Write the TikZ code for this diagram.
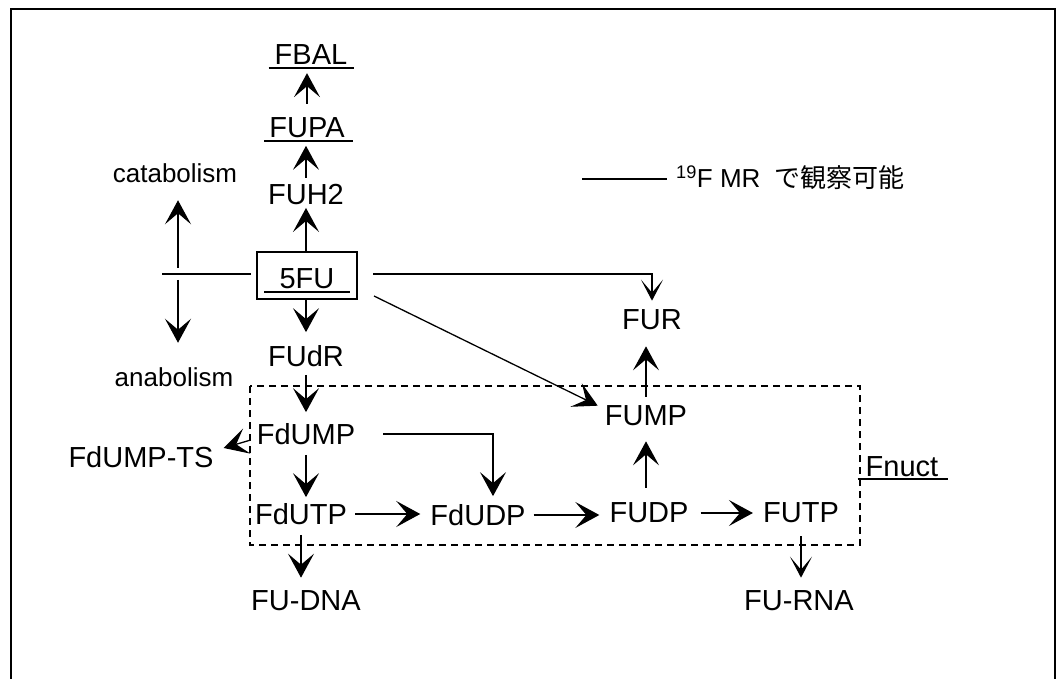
\documentclass[tikz,border=0pt]{standalone}
\usepackage{fontspec}
\setmainfont{Liberation Sans}
\newfontfamily\cjk{Noto Sans CJK JP}
\usetikzlibrary{arrows.meta,calc}
\begin{document}
\begin{tikzpicture}[x=1pt,y=-1pt,
  lab/.style={inner sep=0pt, font=\fontsize{29}{34}\selectfont},
  smalllab/.style={inner sep=0pt, font=\fontsize{26}{30}\selectfont},
  conn/.style={line width=1.3pt},
  arr/.style={conn, -{Stealth[length=24pt,width=26pt,inset=11pt]}},
  thinarr/.style={conn, -{Stealth[length=21pt,width=22pt,inset=13pt]}},
  ul/.style={line width=1.7pt},
  frame/.style={line width=2pt},
  dbox/.style={line width=1.2pt, dash pattern=on 7pt off 5pt}]
\useasboundingbox (0,0) rectangle (1058,679);
\draw[frame] (11,679) -- (11,9) -- (1055,9) -- (1055,679);

% nodes
\node[lab] (FBAL) at (311,55) {FBAL};
\node[lab] (FUPA) at (307,128) {FUPA};
\node[lab] (FUH2) at (306,195) {FUH2};
\node[draw, line width=2pt, minimum width=100pt, minimum height=47pt, inner sep=0pt] (box) at (307,275.5) {};
\node[lab] (FU5) at (307,278.5) {5FU};
\node[lab] (FUdR) at (306,356) {FUdR};
\node[lab] (FUR) at (652,320) {FUR};
\node[lab] (FUMP) at (646,416) {FUMP};
\node[lab] (FdUMP) at (306,434) {FdUMP};
\node[lab] (FdUMPTS) at (141,457) {FdUMP-TS};
\node[lab] (FdUTP) at (301,514) {FdUTP};
\node[lab] (FdUDP) at (478,515) {FdUDP};
\node[lab] (FUDP) at (649,513) {FUDP};
\node[lab] (FUTP) at (801,513) {FUTP};
\node[lab] (FUDNA) at (306,601) {FU-DNA};
\node[lab] (FURNA) at (799,601) {FU-RNA};
\node[lab] (Fnuct) at (902,467) {Fnuct};
\node[smalllab] (catabolism) at (175,173) {catabolism};
\node[smalllab] (anabolism) at (174,377) {anabolism};

% underlines
\draw[ul] ($(FBAL.south west)+(-6,3)$) -- ($(FBAL.south east)+(7,3)$);
\draw[ul] ($(FUPA.south west)+(-5,2.5)$) -- ($(FUPA.south east)+(8,2.5)$);
\draw[ul] ($(FU5.south west)+(-15,3)$) -- ($(FU5.south east)+(15,3)$);
\draw[ul] ($(Fnuct.south west)+(-8,2)$) -- ($(Fnuct.south east)+(10,2)$);

% dashed group
\draw[dbox] (250,386) rectangle (860,545);

% legend
\coordinate (legL) at (582,179);
\draw[conn] (legL) -- ++(85,0);
\node[smalllab, anchor=base west] (leg) at (676,188) {\textsuperscript{19}F MR\hspace{0.55em}{\cjk で観察可能}};

% catabolism / anabolism
\coordinate (cross) at (178,274);
\draw[conn, line width=1.6pt] ([xshift=-16pt]cross) -- ([xshift=-5pt]box.west |- cross);
\draw[arr, shorten >=17.5pt] ([yshift=6pt]cross) -- (cross |- catabolism.south);
\draw[arr, shorten >=24.5pt] ([yshift=-6pt]cross) -- (cross |- anabolism.north);

% main column
\draw[arr, shorten >=2.5pt] (box.north -| FUH2.south) -- (FUH2.south);
\draw[arr, shorten <=7pt, shorten >=7.5pt] (FUH2.north) -- (FUH2.north |- FUPA.south);
\draw[arr, shorten <=14pt, shorten >=8pt] (FUPA.north) -- (FUPA.north |- FBAL.south);
\draw[arr, shorten >=13pt] (box.south -| FUdR.north) -- (FUdR.north);
\draw[arr, shorten <=8pt, shorten >=11pt] (FUdR.south) -- (FUdR.south |- FdUMP.north);
\draw[arr, shorten <=10pt, shorten >=6pt] (FdUMP.south) -- (FdUMP.south |- FdUTP.north);
\draw[arr, shorten <=10pt, shorten >=13pt] (FdUTP.south) -- (FdUTP.south |- FUDNA.north);
\draw[arr] ([xshift=-6pt,yshift=-6pt]FdUMP.west) -- ([xshift=10pt,yshift=9pt]FdUMPTS.east);
\draw[arr, shorten >=8pt] ([xshift=28pt]FdUMP.east) -| ([xshift=15pt]FdUDP.north);

% bottom row
\draw[arr, shorten <=8pt, shorten >=10pt] (FdUTP.east) -- (FdUTP.east -| FdUDP.west);
\draw[arr, shorten <=8pt, shorten >=10pt] (FdUDP.east) -- (FdUDP.east -| FUDP.west);
\draw[arr, shorten <=12pt, shorten >=10pt] (FUDP.east) -- (FUDP.east -| FUTP.west);
\draw[arr, shorten <=15pt, shorten >=15pt] (FUMP.south |- FUDP.north) -- (FUMP.south);
\draw[arr, shorten <=9pt, shorten >=16pt] (FUMP.north) -- (FUMP.north |- FUR.south);
\draw[thinarr, shorten <=13pt, shorten >=13pt] (FUTP.south) -- (FUTP.south |- FURNA.north);

% from 5FU
\draw[thinarr, shorten >=9pt] ([xshift=15pt,yshift=1.5pt]box.east) -| (FUR.north);
\draw[arr] ([xshift=16pt,yshift=4pt]box.south east) -- ([xshift=-7pt]FUMP.north west);
\end{tikzpicture}
\end{document}
